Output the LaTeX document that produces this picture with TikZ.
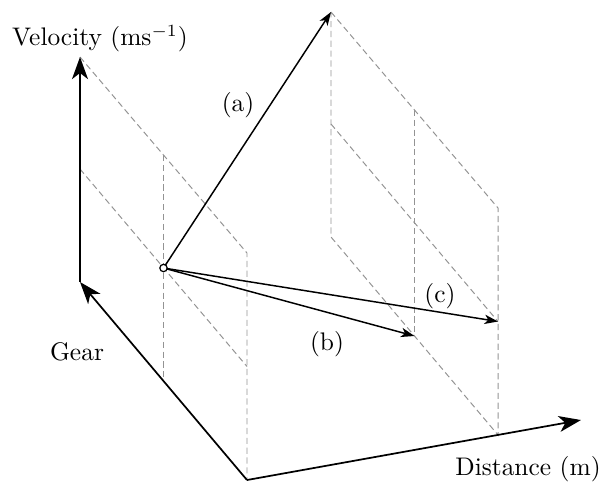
\documentclass[tikz,border=0pt]{standalone}
\usetikzlibrary{arrows.meta}
\begin{document}
\begin{tikzpicture}[x=0.407pt,y=-0.407pt,
  axis/.style={line width=0.7pt,-{Stealth[length=9pt,width=6.5pt,inset=2.5pt]}},
  vec/.style={line width=0.6pt,-{Stealth[length=5.5pt,width=3.8pt,inset=1.5pt]}},
  guide/.style={gray!85,line width=0.4pt,dash pattern=on 2.5pt off 1.5pt},
  lbl/.style={inner sep=0pt,font=\fontsize{10.35}{12}\selectfont}]
\useasboundingbox (0,0) rectangle (601,485);
% key points
\coordinate (O) at (247,480);
\coordinate (G) at (80,282);
\coordinate (Vt) at (80,57);
\coordinate (Gm) at (80,169);
\coordinate (A0) at (247,253);
\coordinate (A1) at (247,366.5);
\coordinate (Hb) at (163.5,381);
\coordinate (Ht) at (163.5,155);
\coordinate (P) at (163.5,268);
\coordinate (Dx) at (581,420);
% right plane
\coordinate (R1) at (331,12);
\coordinate (R2) at (331,124);
\coordinate (R3) at (331,237);
\coordinate (S1) at (498,208);
\coordinate (S2) at (498,321.5);
\coordinate (S3) at (498,435);
\coordinate (Mt) at (414.5,110);
\coordinate (Mb) at (414.5,336);
% guides
\draw[guide] (Vt) -- (A0) -- (O);
\draw[guide] (Gm) -- (A1);
\draw[guide] (Ht) -- (Hb);
\draw[guide] (R1) -- (S1) -- (S3) -- (R3) -- (R1);
\draw[guide] (R2) -- (S2);
\draw[guide] (Mt) -- (Mb);
% axes
\draw[axis] (O) -- (G);
\draw[axis] (G) -- (Vt);
\draw[axis] (O) -- (Dx);
% vectors
\draw[vec] (P) -- (R1);
\draw[vec] (P) -- (Mb);
\draw[vec] (P) -- (S2);
\node[circle,draw,fill=white,line width=0.5pt,minimum size=3pt,inner sep=0pt] (pt) at (P) {};
% labels
\node[lbl] (lv) at (100,39) {Velocity (ms$^{-1}$)};
\node[lbl] (lg) at (77,352) {Gear};
\node[lbl] (ld) at (528,469) {Distance (m)};
\node[lbl] (la) at (238,105) {(a)};
\node[lbl] (lb) at (327,344) {(b)};
\node[lbl] (lc) at (440,296) {(c)};
\end{tikzpicture}
\end{document}
